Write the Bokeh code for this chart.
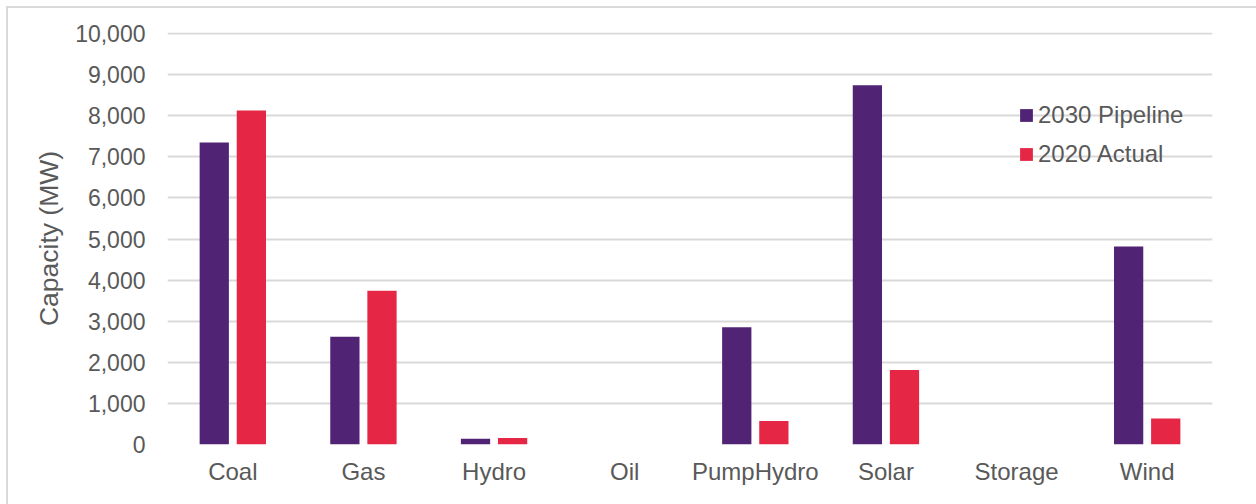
from bokeh.plotting import figure
from bokeh.models import ColumnDataSource, FactorRange, NumeralTickFormatter, FixedTicker, Legend, LegendItem
from bokeh.transform import dodge
from bokeh.layouts import column
from bokeh.embed import file_html
from bokeh.resources import INLINE

# Generation capacity by technology (MW)
technologies = ["Coal", "Gas", "Hydro", "Oil", "PumpHydro", "Solar", "Storage", "Wind"]
pipeline_2030 = [7350, 2620, 140, 0, 2850, 8740, 0, 4820]
actual_2020 = [8130, 3740, 160, 0, 570, 1810, 0, 630]
y_ticks = [0, 1000, 2000, 3000, 4000, 5000, 6000, 7000, 8000, 9000, 10000]

PURPLE = "#512375"
RED = "#e52645"
GRID = "#d9d9d9"
TEXT = "#595959"
FONT = "Liberation Sans"

source = ColumnDataSource(dict(tech=technologies, pipeline=pipeline_2030, actual=actual_2020))

# a little headroom above 10,000 so its gridline is not clipped by the frame
p = figure(
    x_range=FactorRange(*technologies, range_padding=0),
    y_range=(0, 10025),
    width=1248, height=496,
    output_backend="svg", toolbar_location=None,
    min_border_left=159, min_border_right=44, min_border_top=24, min_border_bottom=60,
    outline_line_color=None,
)

bar_w = 0.224
r1 = p.vbar(x=dodge("tech", -0.142, range=p.x_range), top="pipeline", width=bar_w,
            source=source, fill_color=PURPLE, line_color=None)
r2 = p.vbar(x=dodge("tech", 0.142, range=p.x_range), top="actual", width=bar_w,
            source=source, fill_color=RED, line_color=None)

# axes
p.yaxis.ticker = FixedTicker(ticks=y_ticks)
p.yaxis.formatter = NumeralTickFormatter(format="0,0")
p.yaxis.axis_label = "Capacity (MW)"
p.yaxis.axis_label_text_font = FONT
p.yaxis.axis_label_text_font_size = "26.5px"
p.yaxis.axis_label_text_font_style = "normal"
p.yaxis.axis_label_text_color = TEXT
p.yaxis.axis_label_standoff = 8
for ax in (p.xaxis[0], p.yaxis[0]):
    ax.axis_line_color = None
    ax.major_tick_line_color = None
    ax.minor_tick_line_color = None
    ax.major_label_text_font = FONT
    ax.major_label_text_color = TEXT
p.yaxis.major_label_text_font_size = "23px"
p.xaxis.major_label_text_font_size = "24px"
p.yaxis.major_label_standoff = 16
p.xaxis.major_label_standoff = 7

p.xgrid.grid_line_color = None
p.ygrid.grid_line_color = GRID
p.ygrid.grid_line_width = 2

legend = Legend(
    items=[LegendItem(label="2030 Pipeline", renderers=[r1]),
           LegendItem(label="2020 Actual", renderers=[r2])],
    location=(851, 276),
    glyph_width=16, glyph_height=16,
    label_text_font=FONT, label_text_font_size="24px", label_text_color=TEXT,
    label_standoff=4, label_height=24, spacing=11, padding=0, margin=0,
    background_fill_alpha=0, border_line_color=None,
)
p.add_layout(legend, "center")

page = column(p, margin=(6, 0, 0, 6),
              styles={"border-top": f"2px solid {GRID}", "border-left": f"2px solid {GRID}"})

open("out.html", "w").write(file_html(page, INLINE))
